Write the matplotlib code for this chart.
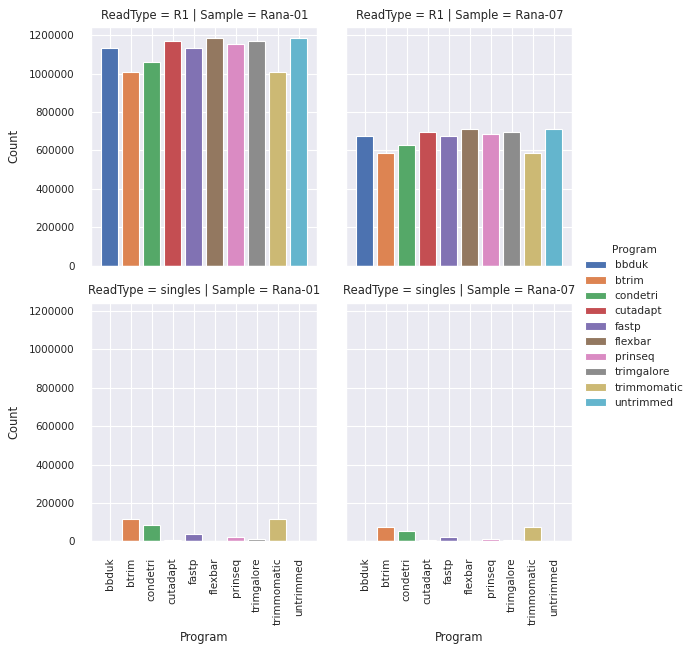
import numpy as np
import matplotlib
matplotlib.use("Agg")
import matplotlib.pyplot as plt
import seaborn as sns
from matplotlib.patches import Patch

# 数据
programs = ['bbduk', 'btrim', 'condetri', 'cutadapt', 'fastp', 'flexbar',
            'prinseq', 'trimgalore', 'trimmomatic', 'untrimmed']
r1_rana01 = [1135000, 1011000, 1063000, 1168000, 1132000, 1184000,
             1153000, 1168000, 1011000, 1184000]
r1_rana07 = [674000, 589000, 627000, 694000, 674000, 710000,
             683000, 694000, 589000, 710000]
singles_rana01 = [0, 117000, 86000, 9000, 38500, 0,
                  22700, 14000, 114000, 0]
singles_rana07 = [0, 75000, 56000, 5000, 24500, 0,
                  14000, 8700, 75000, 0]

panels = [
    ("R1", "Rana-01", r1_rana01),
    ("R1", "Rana-07", r1_rana07),
    ("singles", "Rana-01", singles_rana01),
    ("singles", "Rana-07", singles_rana07),
]

sns.set_theme(context='paper', style='darkgrid')
plt.rcParams.update({
    'xtick.labelsize': 7.5,
    'ytick.labelsize': 7.5,
    'axes.titlesize': 8.3,
    'axes.labelsize': 8.3,
    'legend.fontsize': 7.6,
    'legend.title_fontsize': 7.6,
    'xtick.major.pad': 7,
    'ytick.major.pad': 7,
})
colors = sns.color_palette('deep', len(programs))

fig = plt.figure(figsize=(6.93, 6.53), dpi=100)
lefts = [0.1313, 0.4993]
bottoms = [0.5934, 0.1711]
w, h = 0.3268, 0.3652

axes = []
for i, (rt, sample, vals) in enumerate(panels):
    row, col = divmod(i, 2)
    ax = fig.add_axes([lefts[col], bottoms[row], w, h],
                      sharey=axes[0] if axes else None)
    x = np.arange(len(programs))
    ax.bar(x, vals, width=0.8, color=colors, edgecolor='white')
    ax.set_xticks(x)
    ax.set_title(f"ReadType = {rt} | Sample = {sample}")
    if row == 1:
        ax.set_xticklabels(programs, rotation=90)
        ax.set_xlabel("Program", labelpad=4)
    else:
        ax.tick_params(labelbottom=False)
    if col == 0:
        ax.set_ylabel("Count", labelpad=6)
    else:
        ax.tick_params(labelleft=False)
    ax.ticklabel_format(style='plain', axis='y')
    axes.append(ax)

handles = [Patch(facecolor=c, edgecolor='white', label=p) for p, c in zip(programs, colors)]
fig.legend(handles=handles, title="Program", loc='center right',
           bbox_to_anchor=(1.0, 0.5), frameon=False)

fig.savefig("out.png", dpi=100)
